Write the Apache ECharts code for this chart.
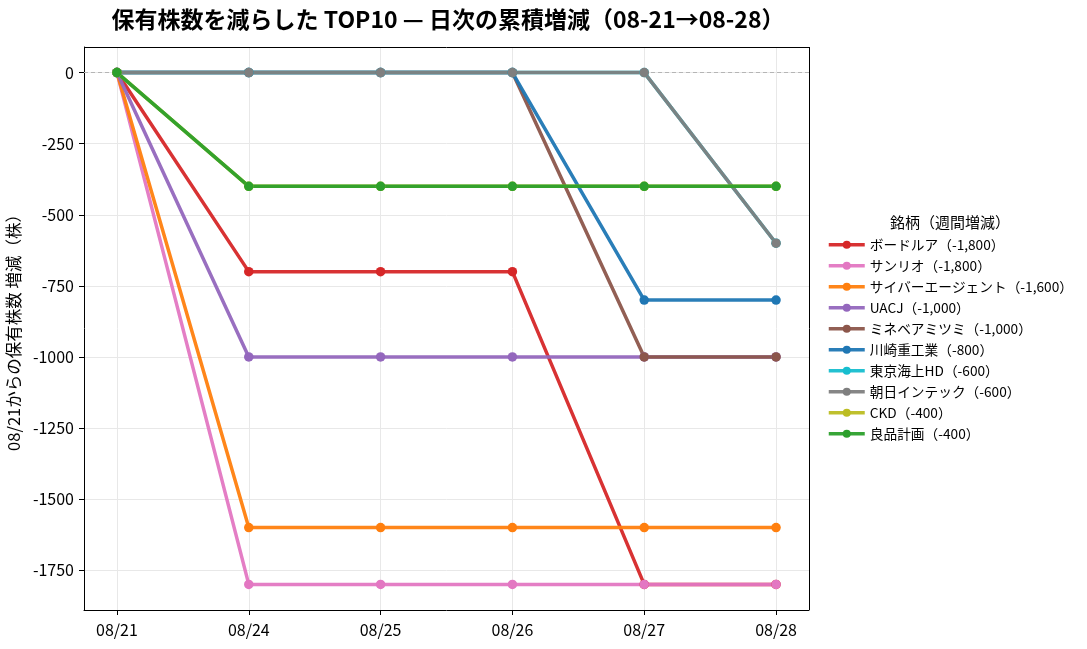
<!DOCTYPE html>
<html>
<head>
<meta charset="utf-8">
<script src="https://cdn.jsdelivr.net/npm/echarts@6/dist/echarts.min.js"></script>
<style>
  html, body { margin: 0; padding: 0; background: #fff; }
  #chart { width: 1087px; height: 649px; }
</style>
</head>
<body>
<div id="chart"></div>
<script>
// 日付 (08/21 起点)
const DATES = ['08/21', '08/24', '08/25', '08/26', '08/27', '08/28']

// 銘柄名 (凡例ラベル)
const NAMES = [
  'ボードルア（-1,800）',
  'サンリオ（-1,800）',
  'サイバーエージェント（-1,600）',
  'UACJ（-1,000）',
  'ミネベアミツミ（-1,000）',
  '川崎重工業（-800）',
  '東京海上HD（-600）',
  '朝日インテック（-600）',
  'CKD（-400）',
  '良品計画（-400）',
]

// 累積増減 (株)
const VALUES = [
  [0, -700, -700, -700, -1800, -1800],
  [0, -1800, -1800, -1800, -1800, -1800],
  [0, -1600, -1600, -1600, -1600, -1600],
  [0, -1000, -1000, -1000, -1000, -1000],
  [0, 0, 0, 0, -1000, -1000],
  [0, 0, 0, 0, -800, -800],
  [0, 0, 0, 0, 0, -600],
  [0, 0, 0, 0, 0, -600],
  [0, -400, -400, -400, -400, -400],
  [0, -400, -400, -400, -400, -400],
]

const COLORS = ['#d62728', '#e377c2', '#ff7f0e', '#9467bd', '#8c564b',
  '#1f77b4', '#17becf', '#7f7f7f', '#bcbd22', '#2ca02c']

const Y_TICKS = [0, -250, -500, -750, -1000, -1250, -1500, -1750]
const X_TICKS = [0, 1, 2, 3, 4, 5]
const FONT = '"Noto Sans CJK JP", "Noto Sans", sans-serif'

const chart = echarts.init(document.getElementById('chart'), null, { renderer: 'canvas' })

chart.setOption({
  animation: false,
  backgroundColor: '#fff',
  textStyle: { fontFamily: FONT },
  title: [{
    text: '保有株数を減らした TOP10 — 日次の累積増減（08-21→08-28）',
    left: 443,
    top: 3,
    textAlign: 'center',
    textStyle: { fontSize: 23, fontWeight: 'bold', color: '#000', fontFamily: '"Noto Sans CJK JP", sans-serif' },
  }, {
    text: '銘柄（週間増減）',
    left: 945,
    top: 210,
    textAlign: 'center',
    textStyle: { fontSize: 15, fontWeight: 'normal', color: '#000', fontFamily: FONT },
  }],
  grid: { left: 84, right: 278, top: 47, bottom: 39, outerBoundsMode: 'none' },
  legend: {
    orient: 'vertical',
    left: 822,
    top: 233,
    itemWidth: 36,
    itemHeight: 10,
    itemGap: 7.3,
    lineStyle: { width: 3.5 },
    textStyle: { fontSize: 13.7, color: '#000', fontFamily: FONT },
    data: NAMES,
  },
  xAxis: {
    type: 'value',
    min: -0.25,
    max: 5.25,
    axisLine: { show: true, onZero: false, lineStyle: { color: '#000', width: 1 } },
    axisTick: { show: true, customValues: X_TICKS, length: 5, lineStyle: { color: '#000' } },
    axisLabel: {
      customValues: X_TICKS,
      formatter: (v) => DATES[Math.round(v)] ?? '',
      fontSize: 16, color: '#000', margin: 12,
    },
    splitLine: { show: true, lineStyle: { color: '#e8e8e8', width: 1 } },
  },
  yAxis: {
    type: 'value',
    min: -1890,
    max: 90,
    name: '08/21からの保有株数 増減（株）',
    nameLocation: 'middle',
    nameGap: 54,
    nameTextStyle: { fontSize: 16.5, color: '#000', fontFamily: FONT },
    axisLine: { show: true, onZero: false, lineStyle: { color: '#000', width: 1 } },
    axisTick: { show: true, customValues: Y_TICKS, length: 5, lineStyle: { color: '#000' } },
    axisLabel: { customValues: Y_TICKS, formatter: (v) => String(v), fontSize: 16, color: '#000', margin: 10 },
    splitLine: { show: true, lineStyle: { color: '#e8e8e8', width: 1 } },
  },
  series: NAMES.map((name, i) => ({
    name,
    type: 'line',
    color: COLORS[i],
    symbol: 'circle',
    symbolSize: 9.5,
    lineStyle: { width: 3.5, color: COLORS[i], opacity: 0.95 },
    itemStyle: { color: COLORS[i] },
    data: VALUES[i].map((v, j) => [j, v]),
    markLine: i === 0 ? {
      silent: true,
      symbol: 'none',
      label: { show: false },
      lineStyle: { color: '#b5b5b5', type: [4, 3], width: 1.2 },
      data: [{ yAxis: 0 }],
      z: 1,
    } : undefined,
  })).concat([{
    // 上・右の枠 (matplotlib の spine)
    type: 'line',
    silent: true,
    data: [],
    markLine: {
      silent: true,
      symbol: 'none',
      label: { show: false },
      lineStyle: { color: '#000', type: 'solid', width: 1 },
      data: [{ yAxis: 90 }, { xAxis: 5.25 }],
    },
  }]),
})
</script>
</body>
</html>
